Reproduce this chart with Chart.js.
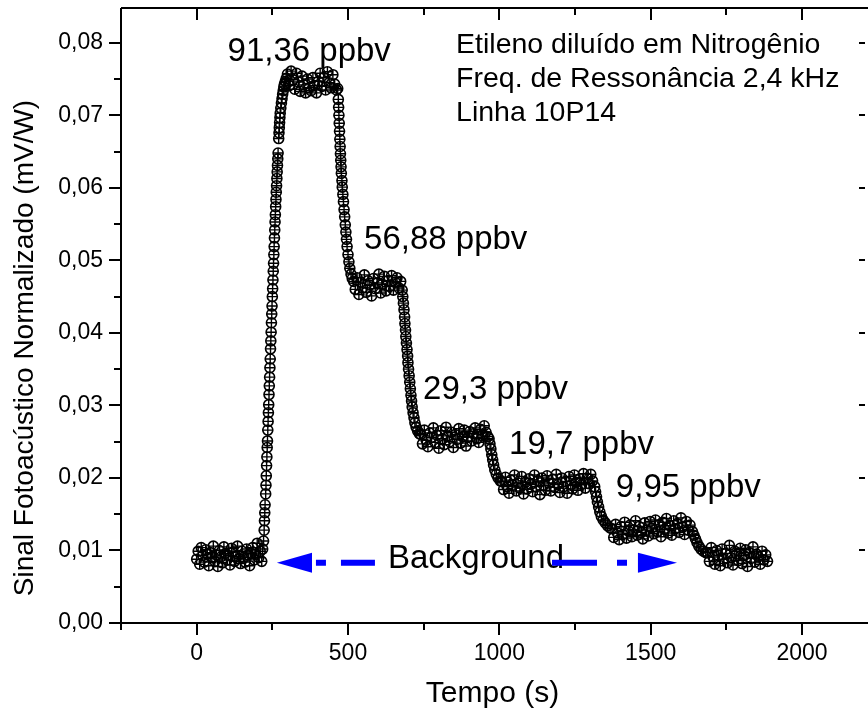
<!DOCTYPE html>
<html>
<head>
<meta charset="utf-8">
<script src="https://cdn.jsdelivr.net/npm/chart.js@4.4.1/dist/chart.umd.min.js"></script>
<style>
  html, body { margin: 0; padding: 0; background: #fff; overflow: hidden; }
  canvas { display: block; }
</style>
</head>
<body>
<canvas id="sinalChart" width="868" height="715"></canvas>
<script>
// ===== Dados: tempo (s) e sinal normalizado (mV/W) =====
const tempo = [
  // linha de base
  0, 5, 10, 15, 20, 25, 30, 35, 40, 45, 50, 55, 60, 65, 70, 75, 80, 85, 90, 95, 100, 105,
  110, 115, 120, 125, 130, 135, 140, 145, 150, 155, 160, 165, 170, 175, 180, 185, 190, 195,
  200, 205, 210, 215,
  // subida
  218, 221, 223, 224, 225, 226, 228, 229, 230, 231, 232, 233, 234, 235, 236, 237, 238, 239, 240, 241,
  242, 243, 244, 245, 246, 247, 248, 249, 250, 251, 252, 253, 254, 255, 256, 257, 258, 259, 260, 261,
  262, 263, 264, 265, 266, 267, 268, 269, 271, 272, 273, 274, 275, 276, 278, 280, 282, 284, 286, 288,
  290, 293, 296,
  // 91,36 ppbv
  300, 306, 312, 318, 324, 330, 336, 342, 348, 354, 360, 366, 372, 378, 384, 390, 396, 402, 408, 414,
  420, 426, 432, 438, 444, 450, 456, 462,
  466, 468, 469, 470, 471, 472, 473, 474, 475, 476, 477, 478, 480, 481, 483, 485, 487, 489, 491, 493,
  495, 497, 500, 503, 506, 510, 514, 519,
  // 56,88 ppbv
  524, 530, 536, 542, 548, 554, 560, 566, 572, 578, 584, 590, 596, 602, 608, 614, 620, 626, 632, 638,
  644, 650, 656, 662, 668, 674,
  679, 681, 683, 685, 687, 688, 690, 691, 693, 695, 697, 698, 700, 702, 704, 706, 708, 710, 712, 715,
  718, 721, 725, 730, 736,
  // 29,3 ppbv
  740, 746, 752, 758, 764, 770, 776, 782, 788, 794, 800, 806, 812, 818, 824, 830, 836, 842, 848, 854,
  860, 866, 872, 878, 884, 890, 896, 902, 908, 914, 920, 926, 932, 938, 944, 950, 956, 962,
  966, 969, 972, 975, 978, 981, 985, 990, 996, 1003,
  // 19,7 ppbv
  1008, 1014, 1020, 1026, 1032, 1038, 1044, 1050, 1056, 1062, 1068, 1074, 1080, 1086, 1092, 1098,
  1104, 1110, 1116, 1122, 1128, 1134, 1140, 1146, 1152, 1158, 1164, 1170, 1176, 1182, 1188, 1194,
  1200, 1206, 1212, 1218, 1224, 1230, 1236, 1242, 1248, 1254, 1260, 1266, 1272, 1278, 1284, 1290,
  1296, 1302, 1308,
  1315, 1318, 1321, 1324, 1328, 1332, 1337, 1343, 1350, 1358, 1366,
  // 9,95 ppbv
  1372, 1378, 1384, 1390, 1396, 1402, 1408, 1414, 1420, 1426, 1432, 1438, 1444, 1450, 1456, 1462,
  1468, 1474, 1480, 1486, 1492, 1498, 1504, 1510, 1516, 1522, 1528, 1534, 1540, 1546, 1552, 1558,
  1564, 1570, 1576, 1582, 1588, 1594, 1600, 1606, 1612, 1618, 1624, 1630,
  1638, 1643, 1648, 1653, 1659, 1666, 1674, 1682,
  // volta à linha de base
  1688, 1694, 1700, 1706, 1712, 1718, 1724, 1730, 1736, 1742, 1748, 1754, 1760, 1766, 1772, 1778,
  1784, 1790, 1796, 1802, 1808, 1814, 1820, 1826, 1832, 1838, 1844, 1850, 1856, 1862, 1868, 1874,
  1880, 1886
];

const sinal = [
  0.0088, 0.0099, 0.0081, 0.0104, 0.0093, 0.0084, 0.0101, 0.0095, 0.0079, 0.0097,
  0.0090, 0.0106, 0.0085, 0.0094, 0.0078, 0.0100, 0.0091, 0.0083, 0.0105, 0.0096,
  0.0087, 0.0093, 0.0080, 0.0103, 0.0098, 0.0085, 0.0092, 0.0106, 0.0089, 0.0082,
  0.0099, 0.0091, 0.0084, 0.0102, 0.0094, 0.0079, 0.0096, 0.0104, 0.0087, 0.0095,
  0.0110, 0.0090, 0.0099, 0.0085,
  0.0102, 0.0113, 0.0128, 0.0141, 0.0152, 0.0163, 0.0178, 0.0190, 0.0203, 0.0217, 0.0229, 0.0242,
  0.0251, 0.0266, 0.0278, 0.0290, 0.0301, 0.0315, 0.0327, 0.0339, 0.0352, 0.0364, 0.0378, 0.0389,
  0.0401, 0.0414, 0.0426, 0.0437, 0.0450, 0.0461, 0.0473, 0.0485, 0.0496, 0.0508, 0.0519, 0.0531,
  0.0542, 0.0553, 0.0563, 0.0574, 0.0584, 0.0594, 0.0603, 0.0613, 0.0622, 0.0631, 0.0640, 0.0648,
  0.0668, 0.0676, 0.0683, 0.0690, 0.0697, 0.0703, 0.0710, 0.0717, 0.0723, 0.0729, 0.0734, 0.0739,
  0.0743, 0.0747, 0.0751,
  0.0757, 0.0741, 0.0761, 0.0749, 0.0736, 0.0758, 0.0746, 0.0733, 0.0754, 0.0742,
  0.0731, 0.0750, 0.0738, 0.0734, 0.0752, 0.0741, 0.0731, 0.0747, 0.0758, 0.0740,
  0.0752, 0.0735, 0.0760, 0.0745, 0.0738, 0.0756, 0.0743, 0.0735,
  0.0737, 0.0722, 0.0711, 0.0700, 0.0689, 0.0678, 0.0667, 0.0657, 0.0647, 0.0638, 0.0629, 0.0620,
  0.0610, 0.0601, 0.0591, 0.0581, 0.0570, 0.0560, 0.0549, 0.0539, 0.0529, 0.0519, 0.0508, 0.0498,
  0.0489, 0.0481, 0.0475, 0.0471,
  0.0460, 0.0476, 0.0453, 0.0470, 0.0462, 0.0480, 0.0456, 0.0472, 0.0466, 0.0451,
  0.0475, 0.0461, 0.0469, 0.0481, 0.0455, 0.0467, 0.0478, 0.0458, 0.0472, 0.0464,
  0.0479, 0.0459, 0.0470, 0.0476, 0.0462, 0.0471,
  0.0459, 0.0450, 0.0441, 0.0432, 0.0422, 0.0413, 0.0404, 0.0395, 0.0386, 0.0377, 0.0368, 0.0359,
  0.0350, 0.0341, 0.0332, 0.0323, 0.0314, 0.0306, 0.0298, 0.0290, 0.0283, 0.0276, 0.0270, 0.0265,
  0.0261,
  0.0260, 0.0247, 0.0266, 0.0252, 0.0243, 0.0262, 0.0256, 0.0269, 0.0249, 0.0259,
  0.0241, 0.0265, 0.0254, 0.0246, 0.0270, 0.0258, 0.0250, 0.0263, 0.0242, 0.0260,
  0.0253, 0.0268, 0.0248, 0.0257, 0.0266, 0.0244, 0.0256, 0.0264, 0.0251, 0.0261,
  0.0269, 0.0254, 0.0249, 0.0267, 0.0258, 0.0272, 0.0263, 0.0257,
  0.0254, 0.0247, 0.0240, 0.0232, 0.0225, 0.0218, 0.0211, 0.0205, 0.0200, 0.0196,
  0.0195, 0.0184, 0.0201, 0.0188, 0.0179, 0.0197, 0.0190, 0.0204, 0.0182, 0.0193,
  0.0186, 0.0202, 0.0178, 0.0194, 0.0185, 0.0199, 0.0191, 0.0181, 0.0204, 0.0188,
  0.0196, 0.0177, 0.0200, 0.0190, 0.0183, 0.0203, 0.0193, 0.0182, 0.0198, 0.0187,
  0.0205, 0.0191, 0.0180, 0.0200, 0.0188, 0.0195, 0.0179, 0.0202, 0.0190, 0.0185,
  0.0204, 0.0194, 0.0183, 0.0199, 0.0191, 0.0206, 0.0186, 0.0200, 0.0192, 0.0205,
  0.0196,
  0.0188, 0.0181, 0.0174, 0.0167, 0.0160, 0.0153, 0.0147, 0.0142, 0.0138, 0.0134, 0.0131,
  0.0130, 0.0118, 0.0136, 0.0124, 0.0115, 0.0133, 0.0122, 0.0139, 0.0117, 0.0127,
  0.0135, 0.0119, 0.0128, 0.0141, 0.0121, 0.0133, 0.0125, 0.0116, 0.0138, 0.0128,
  0.0120, 0.0140, 0.0131, 0.0123, 0.0142, 0.0126, 0.0135, 0.0119, 0.0139, 0.0129,
  0.0144, 0.0124, 0.0134, 0.0121, 0.0141, 0.0130, 0.0137, 0.0125, 0.0145, 0.0132,
  0.0122, 0.0140, 0.0128, 0.0135,
  0.0126, 0.0121, 0.0116, 0.0111, 0.0106, 0.0102, 0.0099, 0.0097,
  0.0097, 0.0085, 0.0104, 0.0091, 0.0081, 0.0100, 0.0093, 0.0079, 0.0102, 0.0088,
  0.0096, 0.0083, 0.0107, 0.0090, 0.0080, 0.0099, 0.0095, 0.0086, 0.0103, 0.0082,
  0.0093, 0.0101, 0.0078, 0.0097, 0.0089, 0.0105, 0.0084, 0.0095, 0.0091, 0.0081,
  0.0099, 0.0087, 0.0094, 0.0085
];

const ticksTempo = [0, 500, 1000, 1500, 2000];
const minorTempo = [-250, 250, 750, 1250, 1750];
const ticksSinal = [0, 0.01, 0.02, 0.03, 0.04, 0.05, 0.06, 0.07, 0.08];
const minorSinal = [0.005, 0.015, 0.025, 0.035, 0.045, 0.055, 0.065, 0.075];

const concentracoes = ['91,36 ppbv', '56,88 ppbv', '29,3 ppbv', '19,7 ppbv', '9,95 ppbv'];
const infoLinhas = ['Etileno diluído em Nitrogênio', 'Freq. de Ressonância 2,4 kHz', 'Linha 10P14'];

// posição (em unidades dos eixos) de cada rótulo de concentração
const posConc = [[102, 0.0775], [553, 0.0516], [748, 0.0309], [1032, 0.0233], [1385, 0.0174]];

const FONTE = '"Liberation Sans", Arial, Helvetica, sans-serif';
const pontos = tempo.map((t, i) => ({ x: t, y: sinal[i] }));

// ===== moldura, marcas dos eixos, títulos e anotações =====
const molduraPlugin = {
    id: 'moldura',
    afterDraw(chart) {
        const { ctx, chartArea: a, scales: { x, y } } = chart;
        ctx.save();
        ctx.strokeStyle = '#000';
        ctx.lineWidth = 2;
        ctx.beginPath();
        ctx.moveTo(a.left, a.top); ctx.lineTo(a.right, a.top);
        ctx.moveTo(a.left, a.top); ctx.lineTo(a.left, a.bottom); ctx.lineTo(a.right, a.bottom);
        ctx.stroke();

        ctx.beginPath();
        ticksSinal.forEach(v => {
            const py = Math.round(y.getPixelForValue(v));
            ctx.moveTo(a.left - 12, py); ctx.lineTo(a.left, py);
            if (v > 0) { ctx.moveTo(a.right - 9, py); ctx.lineTo(a.right - 3, py); }
        });
        minorSinal.forEach(v => {
            const py = Math.round(y.getPixelForValue(v));
            ctx.moveTo(a.left - 7, py); ctx.lineTo(a.left, py);
        });
        ticksTempo.forEach(v => {
            const px = Math.round(x.getPixelForValue(v));
            ctx.moveTo(px, a.bottom); ctx.lineTo(px, a.bottom + 12);
            ctx.moveTo(px, a.top); ctx.lineTo(px, a.top + 12);
        });
        minorTempo.forEach(v => {
            const px = Math.round(x.getPixelForValue(v));
            ctx.moveTo(px, a.bottom); ctx.lineTo(px, a.bottom + 7);
            ctx.moveTo(px, a.top); ctx.lineTo(px, a.top + 7);
        });
        ctx.stroke();

        // títulos dos eixos
        ctx.fillStyle = '#000';
        ctx.textAlign = 'center';
        ctx.textBaseline = 'middle';
        ctx.font = '30px ' + FONTE;
        ctx.fillText('Tempo (s)', (a.left + a.right) / 2 - 2, 694);
        ctx.font = '28px ' + FONTE;
        ctx.save();
        ctx.translate(25, 348);
        ctx.rotate(-Math.PI / 2);
        ctx.fillText('Sinal Fotoacústico Normalizado (mV/W)', 0, 0);
        ctx.restore();

        // rótulos de concentração
        ctx.textAlign = 'left';
        ctx.textBaseline = 'alphabetic';
        ctx.font = '33px ' + FONTE;
        concentracoes.forEach((txt, i) => {
            ctx.fillText(txt, x.getPixelForValue(posConc[i][0]), y.getPixelForValue(posConc[i][1]));
        });
        ctx.fillText('Background', x.getPixelForValue(632), y.getPixelForValue(0.0076));

        // texto informativo
        ctx.font = '28.5px ' + FONTE;
        infoLinhas.forEach((txt, i) => {
            ctx.fillText(txt, x.getPixelForValue(857), y.getPixelForValue(0.0786 - i * 0.0047));
        });

        // setas azuis tracejadas
        const ya = y.getPixelForValue(0.0083);
        ctx.strokeStyle = '#0000ff';
        ctx.fillStyle = '#0000ff';
        ctx.lineWidth = 6;
        ctx.lineCap = 'butt';
        const seta = (xPonta, xBase, xFim, tracos) => {
            ctx.beginPath();
            ctx.moveTo(xPonta, ya);
            ctx.lineTo(xBase, ya - 10);
            ctx.lineTo(xBase, ya + 10);
            ctx.closePath();
            ctx.fill();
            ctx.setLineDash(tracos);
            ctx.beginPath();
            ctx.moveTo(xFim, ya);
            ctx.lineTo(xBase, ya);
            ctx.stroke();
            ctx.setLineDash([]);
        };
        seta(x.getPixelForValue(265), x.getPixelForValue(381), x.getPixelForValue(589), [34, 15, 10, 20]);
        seta(x.getPixelForValue(1587), x.getPixelForValue(1458), x.getPixelForValue(1174), [45, 20, 10, 20]);
        ctx.restore();
    }
};

Chart.defaults.color = '#000';
Chart.defaults.font.family = FONTE;

const ctx = document.getElementById('sinalChart').getContext('2d');
new Chart(ctx, {
    type: 'scatter',
    data: {
        datasets: [
            {
                label: 'Sinal',
                data: pontos,
                pointStyle: 'circle',
                pointRadius: 5,
                borderColor: '#000',
                backgroundColor: 'rgba(0,0,0,0)',
                borderWidth: 1.6
            },
            {
                label: 'Sinal (cruz)',
                data: pontos,
                pointStyle: 'cross',
                pointRadius: 5,
                borderColor: '#000',
                borderWidth: 1.4
            }
        ]
    },
    options: {
        responsive: false,
        animation: false,
        devicePixelRatio: 1,
        layout: { autoPadding: false, padding: { top: 8, right: 0, left: 0, bottom: 0 } },
        plugins: { legend: { display: false }, tooltip: { enabled: false } },
        scales: {
            x: {
                type: 'linear',
                min: -250,
                max: 2218,
                grid: { display: false, drawTicks: false },
                border: { display: false },
                afterBuildTicks: s => { s.ticks = ticksTempo.map(v => ({ value: v })); },
                afterFit: s => { s.height = 92; s.paddingLeft = 0; s.paddingRight = 0; },
                ticks: {
                    padding: 17,
                    font: { size: 23 },
                    maxRotation: 0,
                    callback: v => String(v)
                }
            },
            y: {
                min: 0,
                max: 0.0848,
                grid: { display: false, drawTicks: false },
                border: { display: false },
                afterBuildTicks: s => { s.ticks = ticksSinal.map(v => ({ value: v })); },
                afterFit: s => { s.width = 121; s.paddingTop = 0; s.paddingBottom = 0; },
                ticks: {
                    padding: 18,
                    font: { size: 23 },
                    callback: v => v.toFixed(2).replace('.', ',')
                }
            }
        }
    },
    plugins: [molduraPlugin]
});
</script>
</body>
</html>
